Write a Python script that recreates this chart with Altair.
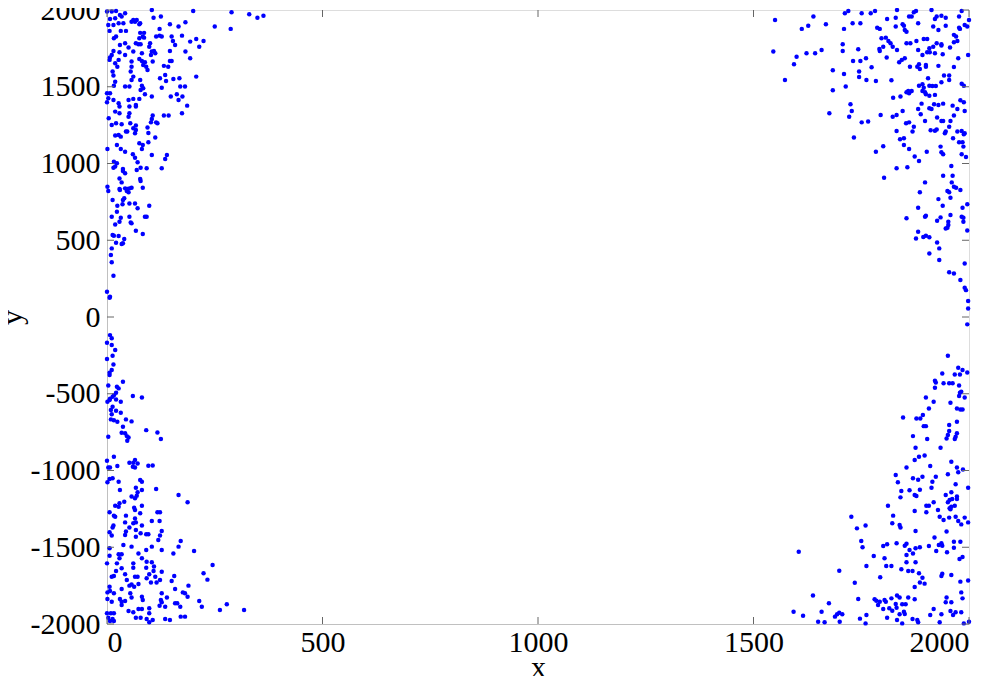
import altair as alt
import pandas as pd

# point readings (x, y) per cluster
upper_left = [
(0,1990),(11,1990),(21,1994),(42,1979),(104,2000),(200,1994),(289,1985),(330,1972),(349,1950),(363,1963),
(7,1942),(19,1946),(30,1968),(34,1957),(61,1935),(69,1935),(77,1914),(108,1950),(125,1957),(3,1903),
(15,1903),(27,1914),(38,1914),(57,1924),(65,1924),(75,1907),(6,1864),(32,1864),(44,1864),(77,1851),
(86,1851),(122,1877),(146,1907),(166,1892),(182,1920),(250,1892),(287,1877),(16,1816),(21,1827),(75,1816),
(83,1827),(86,1820),(114,1827),(122,1833),(127,1827),(150,1827),(153,1798),(174,1833),(207,1811),(224,1798),
(193,1794),(30,1772),(42,1783),(50,1755),(67,1783),(73,1777),(78,1777),(100,1783),(98,1761),(109,1733),
(104,1729),(158,1772),(214,1761),(15,1733),(11,1707),(29,1725),(42,1707),(61,1729),(81,1718),(102,1707),
(112,1718),(146,1733),(182,1729),(6,1675),(7,1690),(19,1653),(27,1675),(24,1631),(57,1664),(75,1681),
(81,1668),(88,1659),(84,1642),(91,1631),(94,1609),(106,1664),(132,1636),(142,1631),(146,1668),(150,1668),
(193,1685),(57,1631),(55,1599),(13,1599),(15,1573),(61,1566),(57,1544),(77,1544),(123,1555),(135,1577),
(137,1538),(154,1551),(168,1555),(207,1566),(19,1533),(16,1507),(42,1501),(52,1501),(81,1507),(84,1490),
(78,1479),(104,1436),(127,1494),(170,1501),(181,1501),(88,1451),(0,1457),(7,1457),(3,1425),(15,1414),
(0,1399),(27,1392),(29,1371),(50,1414),(61,1421),(67,1381),(67,1371),(75,1421),(148,1436),(162,1451),
(166,1414),(175,1436),(186,1377),(52,1371),(19,1338),(29,1327),(52,1327),(50,1305),(106,1312),(132,1312),
(143,1312),(174,1327),(4,1295),(11,1251),(21,1262),(34,1255),(54,1262),(104,1290),(102,1268),(114,1268),
(117,1262),(94,1234),(96,1199),(44,1208),(47,1208),(61,1229),(67,1218),(65,1197),(19,1182),(27,1186),
(32,1175),(112,1169),(67,1247),(1,1095),(23,1121),(32,1095),(42,1077),(75,1132),(83,1121),(81,1095),
(96,1138),(60,1060),(65,1038),(104,1056),(139,1056),(135,1030),(16,1012),(23,1001),(71,1008),(15,973),
(19,980),(37,964),(78,973),(92,969),(127,969),
(37,951),(42,936),(69,957),(29,903),(34,877),(77,899),(78,886),(83,842),(1,849),(3,821),
(29,834),(30,827),(42,838),(47,834),(52,838),(57,842),(50,812),(46,821),(40,773),(37,762),
(13,762),(36,734),(24,725),(52,740),(65,740),(71,708),(98,725),(23,686),(11,653),(32,647),
(52,653),(88,653),(92,653),(29,621),(19,603),(55,616),(57,610),(67,562),(83,540),(13,534),
(16,530),(27,527),(40,508),(21,484),(34,475),(37,480),(11,447),(9,404),(11,356),(15,269),
(0,165),(6,126),(7,132),
]

lower_left = [
(7,-118),(11,-139),(0,-168),(11,-183),(19,-215),(13,-252),(0,-274),(15,-309),(11,-346),(6,-363),
(6,-378),(37,-422),(3,-446),(23,-454),(27,-465),(21,-493),(16,-509),(13,-520),(7,-533),(60,-515),
(81,-524),(21,-537),(32,-552),(1,-552),(6,-541),(13,-585),(9,-606),(21,-611),(32,-624),(11,-633),
(9,-667),(16,-672),(24,-682),(44,-667),(57,-680),(37,-715),(34,-754),(42,-758),(46,-776),(50,-785),
(47,-806),(91,-737),(117,-752),(125,-795),(3,-780),(0,-937),(16,-911),(3,-980),(7,-980),(24,-971),
(52,-950),(61,-950),(65,-932),(71,-954),(60,-976),(65,-980),(96,-969),(106,-967),
(6,-1055),(13,-1051),(1,-1077),(27,-1073),(77,-1062),(81,-1073),(30,-1127),(67,-1112),(81,-1127),(71,-1142),
(57,-1170),(65,-1181),(69,-1164),(114,-1120),(166,-1159),(187,-1207),(19,-1229),(27,-1236),(40,-1203),(29,-1214),
(63,-1242),(65,-1257),(81,-1229),(77,-1279),(6,-1272),(16,-1294),(19,-1301),(44,-1294),(42,-1338),(65,-1312),
(61,-1344),(67,-1338),(52,-1372),(15,-1359),(13,-1372),(104,-1329),(117,-1272),(123,-1272),(122,-1329),(81,-1359),
(67,-1388),(6,-1403),(11,-1424),(44,-1398),(42,-1420),(67,-1431),(78,-1409),(91,-1416),(96,-1416),(127,-1394),
(123,-1424),(119,-1453),(171,-1459),(166,-1496),(38,-1485),(57,-1496),(6,-1507),(104,-1496),(91,-1518),(127,-1518),
(154,-1540),(202,-1524),(73,-1540),(6,-1555),(27,-1546),(34,-1546),(29,-1572),(81,-1572),(0,-1605),(23,-1605),
(61,-1605),(92,-1594),(104,-1598),(34,-1637),(21,-1655),(16,-1687),(11,-1692),(42,-1676),(61,-1633),(91,-1633),
(109,-1626),(108,-1655),(98,-1676),(92,-1702),(65,-1692),(71,-1692),(127,-1659),(156,-1687),(150,-1720),(46,-1713),
(102,-1729),(115,-1729),(123,-1713),(112,-1692),(52,-1750),(57,-1742),(63,-1757),(73,-1739),(6,-1757),(1,-1794),
(7,-1785),(16,-1800),(34,-1772),(158,-1772),(189,-1750),(181,-1800),(176,-1794),(187,-1822),(224,-1670),(245,-1616),
(233,-1711),(127,-1800),(54,-1800),(1,-1837),(11,-1855),(30,-1837),(34,-1855),(42,-1850),(57,-1828),(81,-1822),
(83,-1844),(125,-1844),(139,-1828),(127,-1859),(158,-1865),(163,-1865),(170,-1887),(214,-1850),(220,-1887),(262,-1909),
(278,-1872),(318,-1909),(34,-1876),(135,-1887),(122,-1881),(50,-1915),(61,-1924),(73,-1902),(81,-1902),(98,-1898),
(98,-1930),(0,-1930),(9,-1930),(16,-1930),(3,-1959),(13,-1967),(7,-1980),(16,-1980),(67,-1959),(78,-1959),
(92,-1967),(98,-1989),(106,-1974),(135,-1967),(146,-1974),(171,-1952),(181,-1952),
]

upper_right = [
(1550,1935),(1639,1957),(1627,1898),(1612,1877),(1668,1907),(1712,1979),(1720,1994),(1751,1979),(1772,1979),(1782,1994),
(1833,2000),(1872,1985),(1877,1994),(1913,2000),(1710,1877),(1730,1914),(1748,1914),(1810,1942),(1830,1950),(1861,1957),
(1867,1957),(1846,1907),(1849,1898),(1830,1892),(1882,1914),(1921,1942),(1925,1957),(1936,1963),(1946,1950),(1977,1957),
(1983,1994),(2000,1935),(1990,1903),(1996,1892),(1977,1885),(1979,1877),(1917,1892),(1929,1870),(1946,1898),(1787,1885),
(1793,1877),(1851,1870),(1855,1859),(1797,1816),(1807,1820),(1813,1798),(1818,1783),(1801,1761),(1792,1746),(1793,1733),
(1809,1690),(1823,1761),(1833,1740),(1855,1783),(1864,1783),(1878,1798),(1895,1811),(1903,1811),(1925,1783),(1936,1777),
(1936,1768),(1917,1761),(1908,1751),(1903,1725),(1892,1707),(1882,1740),(1909,1725),(1921,1718),(1939,1712),(1956,1755),
(1965,1790),(1973,1798),(1965,1838),(1970,1827),(1546,1729),(1600,1696),(1623,1718),(1643,1718),(1658,1740),(1594,1646),
(1707,1777),(1707,1733),(1743,1744),(1731,1668),(1748,1668),(1761,1685),(1684,1607),(1710,1583),(1745,1599),(1745,1564),
(1774,1627),(1573,1544),(1684,1477),(1714,1501),(1762,1544),(1784,1538),(1820,1542),(1838,1659),(1844,1675),(1851,1685),
(1863,1631),(1880,1631),(1884,1646),(1900,1642),(1900,1631),(1886,1616),(1929,1636),(1965,1629),(1975,1685),(1998,1707),
(1905,1555),(1942,1573),(1954,1573),(1954,1544),(1936,1529),(1884,1507),(1892,1516),(1895,1494),(1908,1507),(1915,1505),
(1923,1505),(1983,1520),(1988,1507),(1859,1473),(1867,1473),(1855,1464),(1861,1457),(1892,1473),(1898,1464),(1900,1451),
(1908,1442),(1921,1447),(1824,1429),(1841,1436),(1725,1386),(1728,1342),(1722,1305),(1676,1327),(1751,1268),(1766,1273),
(1795,1316),(1823,1305),(1832,1316),(1846,1342),(1882,1355),(1890,1390),(1908,1360),(1913,1355),(1919,1386),(1929,1381),
(1940,1390),(1962,1377),(1973,1355),(1980,1412),(1988,1399),(1990,1342),(1888,1321),(1898,1277),(1926,1299),(1936,1277),
(1940,1277),(1957,1277),(1965,1312),(1854,1262),(1861,1268),(1872,1240),(1869,1208),(1832,1212),(1911,1216),(1921,1214),
(1925,1221),(1944,1197),(1946,1208),(1954,1240),(1973,1208),(1983,1212),(1988,1190),(1990,1197),(1733,1169),(1840,1158),
(1849,1164),(1849,1121),(1861,1095),(1874,1045),(1884,1017),(1902,1077),(1934,1110),(1936,1073),(1940,1060),(1784,1077),
(1801,1112),(1963,1164),(1977,1138),(1985,1138),(1987,1110),(1983,1060),(1993,1043),(1959,984),(1832,969),(1857,975),
(1803,907),(1898,877),(1940,920),(1962,920),(1960,877),(1965,849),(1970,842),(1980,827),(1886,812),(1950,821),
(1954,812),(1957,777),(1929,768),(1939,725),(1882,712),(1985,712),(1996,734),(1855,643),(1898,653),(1900,660),
(1926,627),(1934,649),(1952,621),(1952,599),(1950,582),(1946,577),(1957,664),(1983,653),(1987,647),(1987,621),
(1996,564),(1882,556),(1877,512),(1894,521),(1900,530),(1908,519),(1926,486),(1931,447),(1908,414),(1931,371),
(1990,349),(1954,291),(1965,284),(1980,241),(1990,191),(1993,175),(1998,104),(1998,56),(1996,-48),
]

lower_right = [
(1951,-252),(1975,-331),(1985,-346),(1996,-361),(1938,-368),(1967,-374),(1979,-374),(1921,-415),(1923,-426),(1941,-431),
(1954,-431),(1962,-431),(1977,-446),(1921,-461),(1979,-493),(1982,-487),(1977,-515),(1990,-524),(1900,-524),(1918,-552),
(1957,-559),(1907,-596),(1972,-596),(1980,-602),(1985,-602),(1847,-654),(1878,-661),(1887,-661),(1893,-639),(1895,-711),
(1900,-711),(1954,-704),(1972,-682),(1954,-743),(1951,-769),(1948,-791),(1972,-758),(1969,-780),(1967,-795),(1870,-776),
(1903,-795),(1876,-852),(1934,-852),(1874,-932),(1884,-911),(1897,-902),(1855,-980),(1910,-971),(1959,-943),(1972,-980),
(1986,-993),
(1830,-1029),(1835,-1077),(1870,-1051),(1882,-1060),(1892,-1040),(1923,-1040),(1915,-1073),(1913,-1112),(1951,-1025),(1975,-1012),
(1969,-1090),(1998,-1112),(1843,-1133),(1841,-1175),(1862,-1129),(1874,-1159),(1878,-1166),(1886,-1125),(1946,-1159),(1959,-1142),
(1955,-1192),(1951,-1207),(1961,-1186),(1972,-1170),(1972,-1186),(1918,-1207),(1907,-1229),(1901,-1229),(1901,-1272),(1928,-1257),
(1955,-1246),(1959,-1236),(1967,-1229),(1957,-1253),(1812,-1229),(1727,-1301),(1824,-1294),(1874,-1264),(1932,-1301),(1941,-1322),
(1954,-1307),(1969,-1301),(1975,-1329),(1982,-1351),(1990,-1307),(1998,-1338),(1740,-1377),(1760,-1359),(1822,-1344),(1839,-1355),
(1841,-1372),(1876,-1394),(1948,-1398),(1750,-1459),(1753,-1500),(1801,-1492),(1810,-1481),(1832,-1474),(1851,-1490),(1855,-1477),
(1862,-1518),(1870,-1540),(1886,-1500),(1907,-1492),(1920,-1437),(1930,-1485),(1936,-1474),(1938,-1490),(1924,-1524),(1949,-1533),
(1965,-1464),(1965,-1503),(1980,-1464),(1985,-1563),(1978,-1577),(1855,-1550),(1876,-1507),(1779,-1557),(1804,-1572),(1808,-1622),
(1820,-1622),(1855,-1598),(1876,-1598),(1762,-1622),(1699,-1653),(1843,-1644),(1859,-1655),(1869,-1655),(1884,-1670),(1892,-1698),
(1886,-1729),(1897,-1737),(1874,-1759),(1794,-1696),(1938,-1672),(1936,-1687),(1959,-1681),(1980,-1724),(1998,-1716),(1982,-1794),
(1985,-1833),(1735,-1731),(1638,-1815),(1675,-1865),(1743,-1837),(1781,-1839),(1785,-1848),(1793,-1855),(1804,-1844),(1807,-1855),
(1820,-1833),(1833,-1815),(1839,-1828),(1845,-1872),(1853,-1872),(1859,-1828),(1874,-1839),(1789,-1876),(1801,-1902),(1815,-1898),
(1822,-1913),(1830,-1870),(1832,-1894),(1849,-1920),(1839,-1937),(1851,-1935),(1918,-1902),(1946,-1859),(1959,-1859),(1948,-1828),
(1957,-1915),(1969,-1924),(1982,-1924),(1593,-1920),(1615,-1946),(1658,-1920),(1689,-1952),(1694,-1937),(1699,-1926),(1706,-1937),
(1700,-1985),(1650,-1985),(1665,-1989),(1747,-1965),(1762,-1941),(1760,-1996),(1810,-1959),(1833,-1974),(1845,-1996),(1869,-1967),
(1880,-1974),(1882,-1989),(1910,-1941),(1936,-1937),(1932,-1989),(1963,-1941),(1988,-1996),(2000,-1985),(1605,-1529),
]

x_ticks = [0, 500, 1000, 1500, 2000]
y_ticks = [-2000, -1500, -1000, -500, 0, 500, 1000, 1500, 2000]

pts = upper_left + lower_left + upper_right + lower_right
df = pd.DataFrame(pts, columns=["x", "y"])

W, H = 862, 614
FONT = "Liberation Serif"
FS = 30
xs = alt.Scale(domain=[0, 2000], nice=False, zero=False)
ys = alt.Scale(domain=[-2000, 2000], nice=False, zero=False)

points = alt.Chart(df).mark_circle(size=20, color="#0000ff", opacity=1).encode(
    x=alt.X("x:Q", scale=xs, axis=alt.Axis(
        values=x_ticks, title="x", grid=False, ticks=False, labelPadding=3,
        labelFont=FONT, labelFontSize=FS, labelColor="black", domainColor="#c0c0c0",
        labelExpr="'' + datum.value",
        titleFont=FONT, titleFontSize=FS, titleFontWeight="normal", titleColor="black",
        titleBaseline="alphabetic", titleY=52)),
    y=alt.Y("y:Q", scale=ys, axis=alt.Axis(
        values=y_ticks, title="y", grid=False, ticks=False, labelPadding=7,
        labelFont=FONT, labelFontSize=FS, labelColor="black", domainColor="#c0c0c0",
        labelExpr="'' + datum.value",
        titleFont=FONT, titleFontSize=FS, titleFontWeight="normal", titleColor="black",
        titleBaseline="alphabetic", titleX=-86, titleY=H / 2)),
)

xt = pd.DataFrame({"v": x_ticks})
yt = pd.DataFrame({"v": y_ticks})
tick_color = "#666666"
bt = alt.Chart(xt).mark_rule(color=tick_color).encode(
    x=alt.X("v:Q", scale=xs), y=alt.value(H), y2=alt.value(H - 7))
tt = alt.Chart(xt).mark_rule(color=tick_color).encode(
    x=alt.X("v:Q", scale=xs), y=alt.value(0), y2=alt.value(7))
lt = alt.Chart(yt).mark_rule(color=tick_color).encode(
    y=alt.Y("v:Q", scale=ys), x=alt.value(0), x2=alt.value(7))
rt = alt.Chart(yt).mark_rule(color=tick_color).encode(
    y=alt.Y("v:Q", scale=ys), x=alt.value(W - 7), x2=alt.value(W))

chart = alt.layer(points, bt, tt, lt, rt).properties(
    width=W, height=H, autosize="none",
    padding={"left": 99, "top": 2, "right": 23, "bottom": 52},
).configure_view(stroke="#c0c0c0", strokeWidth=1).configure(background="white")

chart.save("out.html", embed_options={"renderer": "svg", "actions": False})
